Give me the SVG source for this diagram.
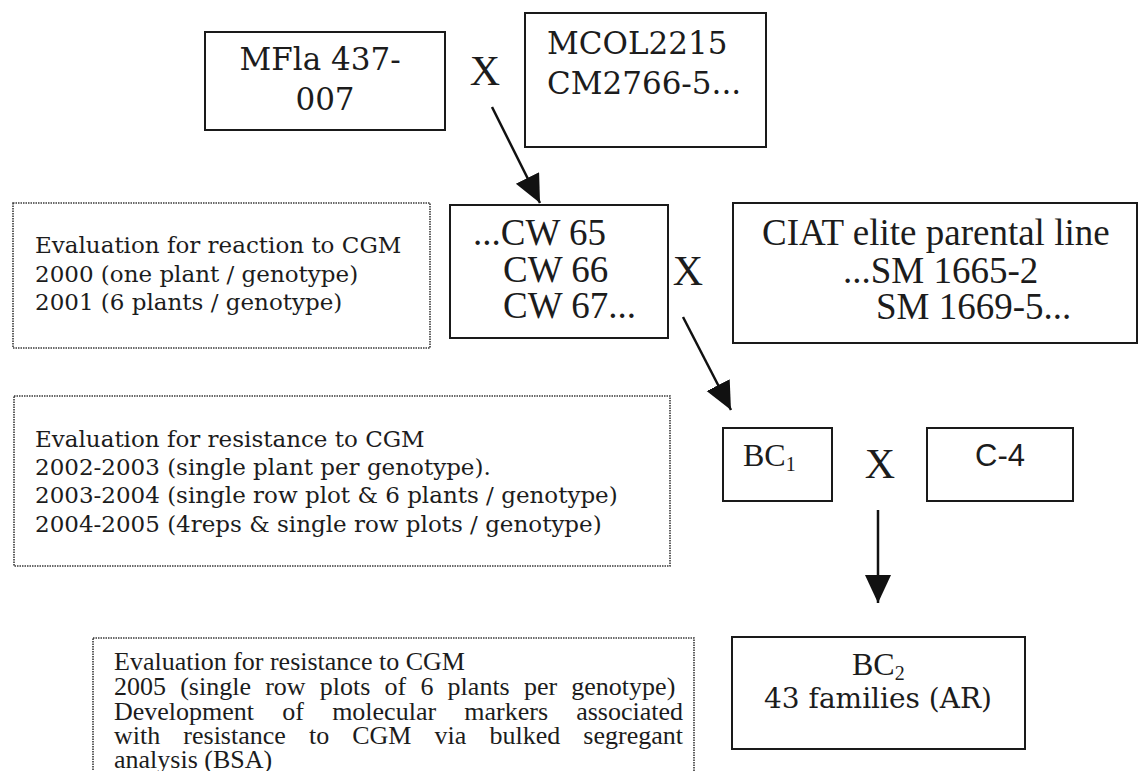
<svg xmlns="http://www.w3.org/2000/svg" width="1141" height="771" viewBox="0 0 1141 771">
  <style>
    .box { fill: #ffffff; stroke: #1a1a1a; stroke-width: 2; }
    .note { fill: #ffffff; stroke: #3a3a3a; stroke-width: 1.6; stroke-dasharray: 1.5 1; }
    .book { font-family: "DejaVu Serif", "Liberation Serif", serif; fill: #1c1c1c; }
    .times { font-family: "Liberation Serif", "Times New Roman", serif; fill: #1c1c1c; }
    .sans { font-family: "Liberation Sans", Arial, sans-serif; fill: #1c1c1c; }
    .cross { font-family: "Liberation Serif", "Times New Roman", serif; font-size: 42px; fill: #1c1c1c; text-anchor: middle; }
    .link { stroke: #111111; stroke-width: 2.5; fill: none; }
  </style>
  <defs>
    <marker id="head" markerUnits="userSpaceOnUse" markerWidth="30" markerHeight="28" refX="28" refY="13" orient="auto">
      <path d="M0,0 L28,13 L0,26 Z" fill="#111111"/>
    </marker>
  </defs>

  <rect width="1141" height="771" fill="#ffffff"/>

  <!-- parents of the first cross -->
  <g id="node-mfla">
    <rect class="box" x="205" y="32" width="240" height="98"/>
    <text class="book" font-size="31" text-anchor="middle">
      <tspan x="325" y="70">MFla 437-</tspan>
      <tspan x="325" y="110">007</tspan>
    </text>
  </g>
  <text id="cross-1" class="cross" x="485" y="85">X</text>
  <g id="node-mcol">
    <rect class="box" x="525" y="13" width="241" height="134"/>
    <text class="book" font-size="31">
      <tspan x="547" y="54">MCOL2215</tspan>
      <tspan x="547" y="94">CM2766-5...</tspan>
    </text>
  </g>

  <!-- F1 lines crossed with the elite parent -->
  <g id="node-eval-2000">
    <rect class="note" x="13" y="203" width="417" height="145"/>
    <text class="book" font-size="23">
      <tspan x="35" y="253">Evaluation for reaction to CGM</tspan>
      <tspan x="35" y="281.5">2000 (one plant / genotype)</tspan>
      <tspan x="35" y="310">2001 (6 plants / genotype)</tspan>
    </text>
  </g>
  <g id="node-cw">
    <rect class="box" x="450" y="205" width="218" height="133"/>
    <text class="times" font-size="37">
      <tspan x="473" y="245">...CW 65</tspan>
      <tspan x="503" y="282">CW 66</tspan>
      <tspan x="503" y="318">CW 67...</tspan>
    </text>
  </g>
  <text id="cross-2" class="cross" x="688" y="285">X</text>
  <g id="node-ciat">
    <rect class="box" x="733" y="203" width="404" height="140"/>
    <text class="times" font-size="37">
      <tspan x="762" y="245">CIAT elite parental line</tspan>
      <tspan x="843" y="283">...SM 1665-2</tspan>
      <tspan x="876" y="319">SM 1669-5...</tspan>
    </text>
  </g>

  <!-- first backcross -->
  <g id="node-eval-2002">
    <rect class="note" x="14" y="396" width="656" height="170"/>
    <text class="book" font-size="23">
      <tspan x="35" y="447">Evaluation for resistance to CGM</tspan>
      <tspan x="35" y="475">2002-2003 (single plant per genotype).</tspan>
      <tspan x="35" y="503">2003-2004 (single row plot &amp; 6 plants / genotype)</tspan>
      <tspan x="35" y="532">2004-2005 (4reps &amp; single row plots / genotype)</tspan>
    </text>
  </g>
  <g id="node-bc1">
    <rect class="box" x="723" y="428" width="109" height="73"/>
    <text class="times" font-size="32" x="743" y="466">BC<tspan font-size="20" dy="5">1</tspan></text>
  </g>
  <text id="cross-3" class="cross" x="880" y="478">X</text>
  <g id="node-c4">
    <rect class="box" x="927" y="428" width="146" height="73"/>
    <text class="sans" font-size="31" x="1000" y="466" text-anchor="middle">C-4</text>
  </g>

  <!-- second backcross -->
  <g id="node-eval-2005">
    <rect class="note" x="93" y="638" width="601" height="150"/>
    <text class="times" font-size="26">
      <tspan x="114" y="670">Evaluation for resistance to CGM</tspan>
      <tspan x="114" y="694.75" word-spacing="7.7">2005 (single row plots of 6 plants per genotype)</tspan>
      <tspan x="114" y="719.5" word-spacing="21.7">Development of molecular markers associated</tspan>
      <tspan x="114" y="744.25" word-spacing="16.6">with resistance to CGM via bulked segregant</tspan>
      <tspan x="114" y="768">analysis (BSA)</tspan>
    </text>
  </g>
  <g id="node-bc2">
    <rect class="box" x="732" y="637" width="293" height="112"/>
    <text class="times" font-size="32" x="852" y="675">BC<tspan font-size="20" dy="5">2</tspan></text>
    <text class="book" font-size="28" x="878" y="708" text-anchor="middle">43 families (AR)</text>
  </g>

  <!-- arrows between generations -->
  <g id="connectors">
    <line class="link" x1="492" y1="107" x2="540" y2="203" marker-end="url(#head)"/>
    <line class="link" x1="683" y1="317" x2="731" y2="410" marker-end="url(#head)"/>
    <line class="link" x1="878" y1="510" x2="878" y2="603" marker-end="url(#head)"/>
  </g>
</svg>
